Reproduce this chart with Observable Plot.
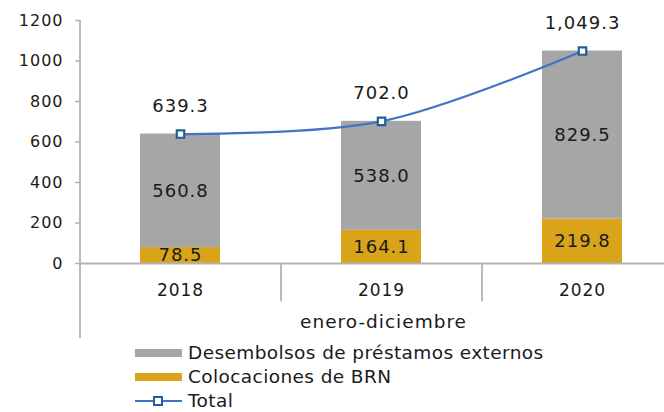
<!DOCTYPE html>
<html>
<head>
<meta charset="utf-8">
<script src="https://cdn.jsdelivr.net/npm/d3@7"></script>
<script src="https://cdn.jsdelivr.net/npm/@observablehq/plot@0.6"></script>
<style>
  html, body { margin: 0; padding: 0; background: #fff; }
  #chart { width: 664px; height: 412px; overflow: hidden; font-family: "DejaVu Sans", sans-serif; color: #1a1a1a; }
  .legend { margin-top: -4px; padding-left: 135px; font-size: 18.5px; letter-spacing: 0.4px; line-height: 1; }
  .row { display: flex; align-items: center; height: 24px; }
  .sw { width: 47px; height: 8px; margin-right: 6px; }
  .sw svg { display: block; }
</style>
</head>
<body>
<div id="chart"></div>
<script>
const years = ["2018", "2019", "2020"];
const desembolsos = [560.8, 538.0, 829.5];
const colocaciones = [78.5, 164.1, 219.8];
const total = [639.3, 702.0, 1049.3];
const yTicks = [0, 200, 400, 600, 800, 1000, 1200];
const seriesNames = ["Desembolsos de préstamos externos", "Colocaciones de BRN", "Total"];
const seriesColors = ["#a6a6a6", "#d9a41a", "#4472c4"];
const xLabel = "enero-diciembre";

const rows = [];
years.forEach((y, i) => {
  rows.push({year: y, serie: seriesNames[1], value: colocaciones[i]});
  rows.push({year: y, serie: seriesNames[0], value: desembolsos[i]});
});
const totals = years.map((y, i) => ({year: y, total: total[i]}));

const W = 664, H = 345;
const step = 201;
const font = "DejaVu Sans";

const plot = Plot.plot({
  width: W,
  height: H,
  marginLeft: 80,
  marginRight: 0,
  marginTop: 20,
  marginBottom: 82,
  style: {fontFamily: font, color: "#1a1a1a", background: "#fff", letterSpacing: "1px"},
  x: {type: "band", domain: years, range: [80, 80 + 3 * step], paddingInner: 0.6, paddingOuter: 0.3},
  y: {domain: [0, 1200]},
  color: {domain: seriesNames.slice(0, 2), range: seriesColors.slice(0, 2)},
  marks: [
    Plot.barY(rows, {x: "year", y: "value", fill: "serie"}),
    Plot.text(rows, Plot.stackY({x: "year", y: "value", z: "serie", text: d => d.value.toFixed(1), fontSize: 18, fill: "#1a1a1a"})),
    // axis lines
    Plot.ruleY([0], {stroke: "#b3b3b3", strokeWidth: 1.8}),
    Plot.ruleX([years[0]], {dx: -step / 2, y1: 1200, y2: -370, stroke: "#b3b3b3", strokeWidth: 1.8, clip: false}),
    Plot.ruleX(years.slice(1), {dx: -step / 2, y1: 0, y2: -190, stroke: "#b3b3b3", strokeWidth: 1.8}),
    Plot.axisY({ticks: yTicks, tickFormat: d => String(d), tickSize: 5, tickPadding: 12, fontSize: 16, stroke: "#b3b3b3", strokeWidth: 1.5, label: null, fill: "#1a1a1a"}),
    Plot.axisX({tickSize: 0, tickPadding: 20, fontSize: 17, label: null, fill: "#1a1a1a"}),
    Plot.text([xLabel], {frameAnchor: "bottom", dx: 11, dy: 64, fontSize: 18.5, fill: "#1a1a1a"}),
    // total line
    Plot.line(totals, {x: "year", y: "total", curve: "catmull-rom", stroke: seriesColors[2], strokeWidth: 2.2}),
    Plot.dot(totals, {x: "year", y: "total", symbol: "square", r: 4.2, fill: "#fff", stroke: "#1f5f99", strokeWidth: 2.2}),
    Plot.text(totals, {x: "year", y: "total", text: d => d3.format(",.1f")(d.total), dy: -28, fontSize: 18, fill: "#1a1a1a"})
  ]
});

const chart = document.getElementById("chart");
chart.appendChild(plot);

const legend = document.createElement("div");
legend.className = "legend";
seriesNames.forEach((name, i) => {
  const row = document.createElement("div");
  row.className = "row";
  const sw = document.createElement("div");
  sw.className = "sw";
  if (i < 2) {
    sw.style.background = seriesColors[i];
  } else {
    sw.style.height = "10px";
    sw.innerHTML = `<svg width="47" height="10"><line x1="0" x2="47" y1="5" y2="5" stroke="${seriesColors[2]}" stroke-width="2.2"/><rect x="19" y="1" width="8" height="8" fill="#fff" stroke="#1f5f99" stroke-width="2"/></svg>`;
  }
  const label = document.createElement("span");
  label.textContent = name;
  row.appendChild(sw);
  row.appendChild(label);
  legend.appendChild(row);
});
chart.appendChild(legend);
</script>
</body>
</html>
